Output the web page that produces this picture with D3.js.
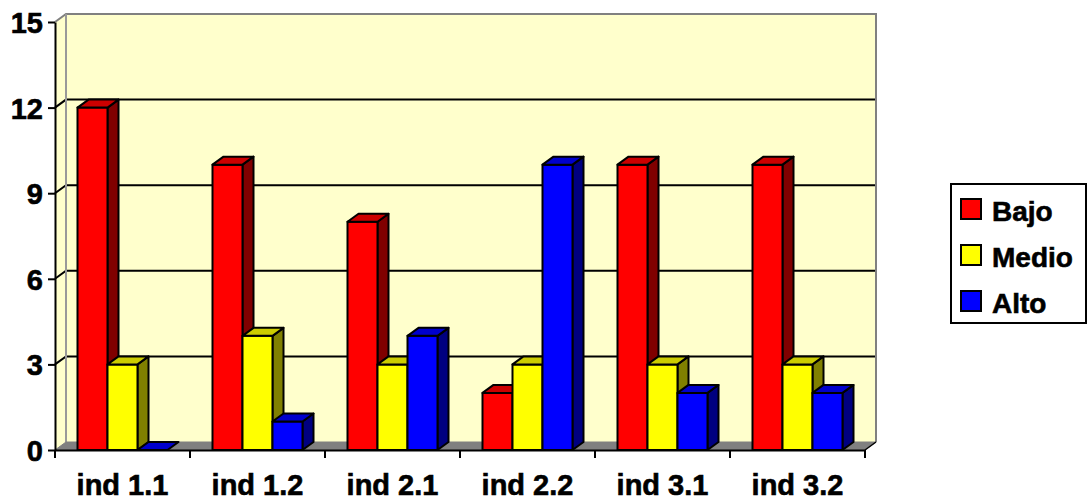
<!DOCTYPE html>
<html>
<head>
<meta charset="utf-8">
<script src="https://cdn.jsdelivr.net/npm/d3@7"></script>
<style>
  body { margin: 0; background: #fff; }
  svg { display: block; font-family: Arial, "Liberation Sans", sans-serif; font-weight: bold; }
  svg text { stroke: #000; stroke-width: 0.6px; }
</style>
</head>
<body>
<svg id="chart" width="1087" height="502"></svg>
<script>
'use strict';

var categories = ['ind 1.1', 'ind 1.2', 'ind 2.1', 'ind 2.2', 'ind 3.1', 'ind 3.2'];
var series = ['Bajo', 'Medio', 'Alto'];
var bajo = [12, 10, 8, 2, 10, 10];
var medio = [3, 4, 3, 3, 3, 3];
var alto = [0, 1, 4, 10, 2, 2];
var yTicks = [0, 3, 6, 9, 12, 15];

var values = [bajo, medio, alto];
var colors = {
    Bajo: { front: '#ff0000', top: '#cc0000', side: '#800000' },
    Medio: { front: '#ffff00', top: '#cccc00', side: '#808000' },
    Alto: { front: '#0000ff', top: '#0000cc', side: '#000080' }
};

var svg = d3.select('#chart');
var plotL = 55, plotR = 865, plotB = 450, plotT = 22;
var dx = 11, dy = 8;

var x = d3.scaleBand().domain(categories).range([plotL, plotR]);
var sub = d3.scaleBand().domain(series).range([0, x.bandwidth()]).paddingOuter(0.75);
var y = d3.scaleLinear().domain([0, 15]).range([plotB, plotT]);

// walls
svg.append('polygon')
    .attr('points', [[plotL, plotT], [plotL + dx, plotT - dy], [plotL + dx, plotB - dy], [plotL, plotB]].join(' '))
    .attr('fill', '#ffffcc');
svg.append('rect')
    .attr('x', plotL + dx).attr('y', plotT - dy)
    .attr('width', plotR - plotL).attr('height', plotB - plotT)
    .attr('fill', '#ffffcc');

// gridlines
var grid = yTicks.filter(function (v) { return v > 0 && v < 15; });
grid.forEach(function (v) {
    svg.append('polyline')
        .attr('points', [[plotL, y(v)], [plotL + dx, y(v) - dy], [plotR + dx, y(v) - dy]].join(' '))
        .attr('fill', 'none').attr('stroke', '#000').attr('stroke-width', 2);
});

// wall edges
svg.append('polyline')
    .attr('points', [[plotL, plotT], [plotL + dx, plotT - dy], [plotR + dx, plotT - dy], [plotR + dx, plotB - dy]].join(' '))
    .attr('fill', 'none').attr('stroke', '#808080').attr('stroke-width', 2);
svg.append('line')
    .attr('x1', plotL + dx).attr('x2', plotL + dx).attr('y1', plotT - dy).attr('y2', plotB - dy)
    .attr('stroke', '#999').attr('stroke-width', 2);

// floor
svg.append('polygon')
    .attr('points', [[plotL, plotB], [plotL + dx, plotB - dy], [plotR + dx, plotB - dy], [plotR, plotB]].join(' '))
    .attr('fill', '#808080').attr('stroke', '#808080').attr('stroke-width', 1);
svg.append('line')
    .attr('x1', plotR).attr('y1', plotB).attr('x2', plotR + dx).attr('y2', plotB - dy)
    .attr('stroke', '#000').attr('stroke-width', 1.5);

// bars
categories.forEach(function (c, i) {
    series.forEach(function (s, j) {
        var v = values[j][i];
        var x0 = x(c) + sub(s), w = sub.bandwidth();
        var yt = y(v);
        var g = svg.append('g').attr('stroke', '#000').attr('stroke-width', 2).attr('stroke-linejoin', 'round');
        if (v > 0) {
            g.append('polygon')
                .attr('points', [[x0 + w, yt], [x0 + w + dx, yt - dy], [x0 + w + dx, plotB - dy], [x0 + w, plotB]].join(' '))
                .attr('fill', colors[s].side);
            g.append('rect')
                .attr('x', x0).attr('y', yt).attr('width', w).attr('height', plotB - yt)
                .attr('fill', colors[s].front);
        }
        g.append('polygon')
            .attr('points', [[x0, yt], [x0 + dx, yt - dy], [x0 + w + dx, yt - dy], [x0 + w, yt]].join(' '))
            .attr('fill', colors[s].top);
    });
});

// y axis
var yAxis = svg.append('g')
    .attr('transform', 'translate(' + plotL + ',0)')
    .call(d3.axisLeft(y).tickValues(yTicks).tickFormat(d3.format('d')).tickSize(7).tickSizeOuter(0).tickPadding(5));
yAxis.select('.domain').attr('stroke', '#000').attr('stroke-width', 2);
yAxis.selectAll('.tick line').attr('stroke', '#000').attr('stroke-width', 2);
yAxis.selectAll('.tick text')
    .attr('font-size', 29).attr('font-weight', 'bold').attr('font-family', 'Arial, "Liberation Sans", sans-serif')
    .attr('fill', '#000').attr('dy', '0.36em');

// x axis
var xAxis = svg.append('g')
    .attr('transform', 'translate(0,' + plotB + ')')
    .call(d3.axisBottom(x).tickSize(0).tickSizeOuter(0).tickPadding(24));
xAxis.select('.domain').attr('stroke', '#000').attr('stroke-width', 2);
xAxis.selectAll('.tick text')
    .attr('font-size', 29).attr('font-weight', 'bold').attr('font-family', 'Arial, "Liberation Sans", sans-serif')
    .attr('fill', '#000');
var bounds = categories.map(function (c) { return x(c); }).concat([plotR]);
xAxis.selectAll('line.bound').data(bounds).enter().append('line')
    .attr('class', 'bound')
    .attr('x1', function (d) { return d; }).attr('x2', function (d) { return d; })
    .attr('y1', 0).attr('y2', 8)
    .attr('stroke', '#000').attr('stroke-width', 2);

// legend
var legend = svg.append('g').attr('transform', 'translate(951,184)');
legend.append('rect')
    .attr('width', 135).attr('height', 139)
    .attr('fill', '#fff').attr('stroke', '#000').attr('stroke-width', 2);
series.forEach(function (s, i) {
    var row = legend.append('g').attr('transform', 'translate(10,' + (15 + i * 46) + ')');
    row.append('rect')
        .attr('width', 20).attr('height', 20)
        .attr('fill', colors[s].front).attr('stroke', '#000').attr('stroke-width', 2);
    row.append('text')
        .attr('x', 31).attr('y', 22)
        .attr('font-size', 28).attr('fill', '#000')
        .text(s);
});
</script>
</body>
</html>
